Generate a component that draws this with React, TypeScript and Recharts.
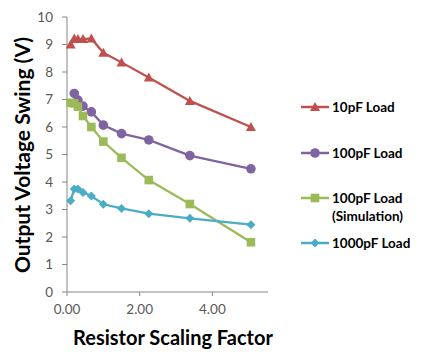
import React from 'react';
import { LineChart, Line, XAxis, YAxis, Label } from 'recharts';

const scaling = [0.1, 0.2, 0.3, 0.44, 0.67, 1, 1.5, 2.25, 3.38, 5.06];
const load10pF = [9.0, 9.22, 9.2, 9.2, 9.22, 8.7, 8.35, 7.8, 6.95, 6.0];
const load100pF = [null, 7.22, 6.98, 6.76, 6.55, 6.07, 5.76, 5.53, 4.96, 4.48];
const load100pFSim = [6.88, 6.86, 6.74, 6.4, 6.0, 5.47, 4.88, 4.07, 3.2, 1.81];
const load1000pF = [3.32, 3.75, 3.75, 3.62, 3.49, 3.19, 3.04, 2.85, 2.68, 2.45];
const xTicks = [0, 2, 4];
const yTicks = [0, 1, 2, 3, 4, 5, 6, 7, 8, 9, 10];

const data = scaling.map((x, i) => ({
  x,
  a: load10pF[i],
  b: load100pF[i],
  c: load100pFSim[i],
  d: load1000pF[i],
}));

const FONT = 'Lato, "Liberation Sans", sans-serif';

const series = [
  { key: 'a', name: '10pF Load', color: '#C0504D', shape: 'triangle' },
  { key: 'b', name: '100pF Load', color: '#8064A2', shape: 'circle' },
  { key: 'c', name: '100pF Load (Simulation)', color: '#9BBB59', shape: 'square' },
  { key: 'd', name: '1000pF Load', color: '#4BACC6', shape: 'diamond' },
];

const Marker = ({ cx, cy, shape, color }: any) => {
  if (cx == null || cy == null) return null;
  if (shape === 'triangle')
    return <polygon points={`${cx},${cy - 5} ${cx + 5},${cy + 4} ${cx - 5},${cy + 4}`} fill={color} />;
  if (shape === 'circle') return <circle cx={cx} cy={cy} r={4.8} fill={color} />;
  if (shape === 'square') return <rect x={cx - 4.3} y={cy - 4.3} width={8.6} height={8.6} fill={color} />;
  return <polygon points={`${cx},${cy - 4.5} ${cx + 4.5},${cy} ${cx},${cy + 4.5} ${cx - 4.5},${cy}`} fill={color} />;
};

// legend drawn beside the chart
const LegendBox = () => {
  const rows = [
    { s: series[0], y: 0, lines: ['10pF Load'] },
    { s: series[1], y: 46, lines: ['100pF Load'] },
    { s: series[2], y: 91, lines: ['100pF Load', '(Simulation)'] },
    { s: series[3], y: 136, lines: ['1000pF Load'] },
  ];
  return (
    <svg width={125} height={160} style={{ position: 'absolute', left: 299, top: 99, overflow: 'visible' }}>
      {rows.map((r) => (
        <g key={r.s.key}>
          <line x1={2} x2={30} y1={r.y + 8} y2={r.y + 8} stroke={r.s.color} strokeWidth={2.5} />
          <Marker cx={16} cy={r.y + 8} shape={r.s.shape} color={r.s.color} />
          {r.lines.map((t, j) => (
            <text key={j} x={33} y={r.y + 13 + j * 18} fontSize={13.5} fontWeight="bold" fill="#000" fontFamily={FONT}>
              {t}
            </text>
          ))}
        </g>
      ))}
    </svg>
  );
};

export default function App() {
  return (
    <div style={{ position: 'absolute', left: 0, top: 0, width: 423, height: 352, background: '#fff' }}>
      <LineChart width={423} height={352} data={data} margin={{ top: 17, right: 155, bottom: 0, left: 0 }}>
        <XAxis
          dataKey="x"
          type="number"
          domain={[0, 5.53]}
          ticks={xTicks}
          interval={0}
          tickFormatter={(v: number) => v.toFixed(2)}
          height={60}
          stroke="#868686"
          tickSize={4}
          tickMargin={8}
          tick={{ fill: '#595959', fontSize: 13.5, fontFamily: FONT }}
        >
          <Label
            content={() => (
              <text x={173} y={345} textAnchor="middle" fontSize={20} fontWeight="bold" fill="#000" fontFamily={FONT}>
                Resistor Scaling Factor
              </text>
            )}
          />
        </XAxis>
        <YAxis
          type="number"
          domain={[0, 10]}
          ticks={yTicks}
          width={67}
          stroke="#868686"
          tickSize={5}
          tickMargin={9}
          interval={0}
          tick={{ fill: '#595959', fontSize: 13.5, fontFamily: FONT }}
        >
          <Label
            content={() => (
              <text
                x={0}
                y={0}
                transform="translate(30,155) rotate(-90)"
                textAnchor="middle"
                fontSize={21}
                fontWeight="bold"
                fill="#000"
                fontFamily={FONT}
              >
                Output Voltage Swing (V)
              </text>
            )}
          />
        </YAxis>
        {series.map((s) => (
          <Line
            key={s.key}
            dataKey={s.key}
            name={s.name}
            stroke={s.color}
            strokeWidth={2.25}
            isAnimationActive={false}
            connectNulls
            dot={(p: any) => <Marker key={`${s.key}-${p.index}`} cx={p.cx} cy={p.cy} shape={s.shape} color={s.color} />}
            activeDot={false}
          />
        ))}
      </LineChart>
      <LegendBox />
    </div>
  );
}
